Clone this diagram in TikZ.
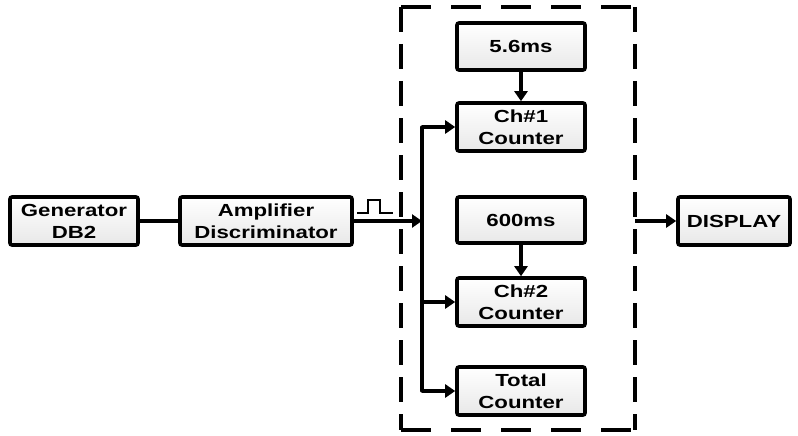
\documentclass[tikz,border=0pt]{standalone}
\usepackage{fontspec}
\setmainfont{Liberation Sans}[FakeStretch=1.27]
\usetikzlibrary{arrows.meta}
\begin{document}
\begin{tikzpicture}[x=1pt,y=-1pt,
  blk/.style={draw=black,line width=3.6pt,rounded corners=2pt,top color=white,bottom color=gray!18,
    minimum width=128pt,minimum height=48pt,align=center,inner sep=0pt,
    font=\fontsize{17.5}{22}\selectfont\bfseries},
  arr/.style={line width=3.4pt,-{Triangle[length=10pt,width=13pt]}},
  ln/.style={line width=3.4pt}]
\useasboundingbox (0,0) rectangle (798,436);
% dashed frame
\draw[line width=3.6pt,dash pattern=on 30pt off 20pt] (401,7) -- (635,7);
\draw[line width=3.6pt,dash pattern=on 30pt off 20pt] (401,430) -- (635,430);
\draw[line width=3.6pt,dash pattern=on 25pt off 12pt] (401,7) -- (401,430);
\draw[line width=3.6pt,dash pattern=on 25pt off 12pt] (635,7) -- (635,430);
% blocks
\node[blk] (gen) at (74,221) {Generator\\DB2};
\node[blk,minimum width=172pt] (amp) at (266,221) {Amplifier\\Discriminator};
\node[blk,minimum height=47pt] (t56) at (521,46.5) {5.6ms};
\node[blk] (ch1) at (521,127) {Ch\#1\\Counter};
\node[blk,minimum height=46pt] (t600) at (521,220) {600ms};
\node[blk] (ch2) at (521,302) {Ch\#2\\Counter};
\node[blk] (tot) at (521,391) {Total\\Counter};
\node[blk,minimum width=112pt] (disp) at (734,221) {DISPLAY};
% bus coordinates
\coordinate (j) at (422,221);
\coordinate (btop) at (422,127);
\coordinate (b2) at (422,302);
\coordinate (bbot) at (422,391);
\coordinate (dout) at (635,221);
% connectors
\draw[ln] (gen) -- (amp);
\draw[arr] (amp.east) -- (j);
\draw[ln,line cap=round] (btop) -- (bbot);
\draw[arr] (btop) -- (ch1.west);
\draw[arr] (b2) -- (ch2.west);
\draw[arr] (bbot) -- (tot.west);
\draw[arr] (t56) -- (ch1);
\draw[arr] (t600) -- (ch2);
\draw[arr] (dout) -- (disp.west);
% pulse symbol
\draw[line width=2.2pt] (357,213) -- (368,213) -- (368,200) -- (380,200) -- (380,213) -- (393,213);
\end{tikzpicture}
\end{document}
